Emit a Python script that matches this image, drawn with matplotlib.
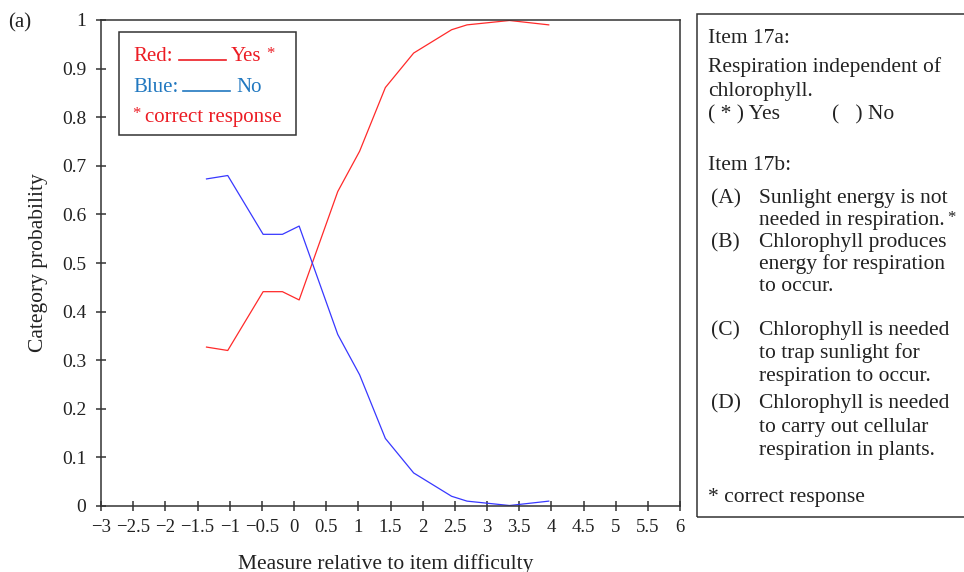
import matplotlib
matplotlib.use("Agg")
import matplotlib.pyplot as plt
from matplotlib.patches import Rectangle
from matplotlib.lines import Line2D

plt.rcParams['font.family'] = ['Liberation Serif', 'DejaVu Serif']

# Data
measure = [-1.36, -1.03, -0.48, -0.18, 0.08, 0.68, 1.02, 1.42, 1.86, 2.45, 2.69, 3.35, 3.96]
prob_yes = [0.327, 0.320, 0.441, 0.441, 0.424, 0.647, 0.730, 0.861, 0.932, 0.980, 0.990, 0.999, 0.990]
prob_no = [0.673, 0.680, 0.559, 0.559, 0.576, 0.353, 0.270, 0.139, 0.068, 0.020, 0.010, 0.001, 0.010]

x_ticks = [-3, -2.5, -2, -1.5, -1, -0.5, 0, 0.5, 1, 1.5, 2, 2.5, 3, 3.5, 4, 4.5, 5, 5.5, 6]
x_labels = ["\u22123", "\u22122.5", "\u22122", "\u22121.5", "\u22121", "\u22120.5", "0", "0.5", "1",
            "1.5", "2", "2.5", "3", "3.5", "4", "4.5", "5", "5.5", "6"]
y_ticks = [0, 0.1, 0.2, 0.3, 0.4, 0.5, 0.6, 0.7, 0.8, 0.9, 1]
y_labels = ["0", "0.1", "0.2", "0.3", "0.4", "0.5", "0.6", "0.7", "0.8", "0.9", "1"]

panel_lines = [
    ("Item 17a:", 708, 43),
    ("Respiration independent of", 708, 72),
    ("chlorophyll.", 708, 96),
    ("( * ) Yes", 708, 119),
    ("(   ) No", 832, 119),
    ("Item 17b:", 708, 170),
    ("(A)", 711, 203), ("Sunlight energy is not", 759, 203),
    ("needed in respiration.", 759, 225),
    ("(B)", 711, 247), ("Chlorophyll produces", 759, 247),
    ("energy for respiration", 759, 269),
    ("to occur.", 759, 291),
    ("(C)", 711, 335), ("Chlorophyll is needed", 759, 335),
    ("to trap sunlight for", 759, 358),
    ("respiration to occur.", 759, 381),
    ("(D)", 711, 408), ("Chlorophyll is needed", 759, 408),
    ("to carry out cellular", 759, 432),
    ("respiration in plants.", 759, 455),
    ("* correct response", 708, 502),
]

W, H = 964, 572
RED = '#ff2a2a'
BLUE = '#3838ff'
RED_TXT = '#ec1c24'
BLUE_TXT = '#2178c0'
INK = '#222222'


def fx(px):
    return px / W


def fy(py):
    return 1 - py / H


fig = plt.figure(figsize=(9.64, 5.72), dpi=100)
ax = fig.add_axes([fx(101), fy(506), fx(680) - fx(101), fy(20) - fy(506)])

ax.plot(measure, prob_yes, color=RED, lw=0.9)
ax.plot(measure, prob_no, color=BLUE, lw=0.9)

ax.set_xlim(-3, 6)
ax.set_ylim(0, 1)
ax.set_xticks(x_ticks)
ax.set_xticklabels(x_labels)
ax.set_yticks(y_ticks)
ax.set_yticklabels(y_labels)
ax.tick_params(direction='inout', length=7, width=1.1, color='#333333',
               labelsize=14, labelcolor=INK)
ax.tick_params(axis='x', pad=6, labelsize=13.5)
ax.tick_params(axis='y', pad=7)
for s in ax.spines.values():
    s.set_color('#333333')
    s.set_linewidth(1.1)

ax.set_ylabel("Category probability", fontsize=15.5, color=INK)
ax.yaxis.set_label_coords(-0.091, 0.5)
ax.set_xlabel("Measure relative to item difficulty", fontsize=15.5, color=INK)
ax.xaxis.set_label_coords(0.492, -0.098)

fig.text(fx(8), fy(27), "(a)", fontsize=15, color=INK, va='baseline')

# legend box inside the axes
fig.add_artist(Rectangle((fx(119), fy(135)), fx(296) - fx(119), fy(32) - fy(135),
                         transform=fig.transFigure, fill=False, ec='#333333', lw=1.1))
fig.text(fx(133), fy(61), "Red:", fontsize=15, color=RED_TXT, va='baseline')
fig.add_artist(Line2D([fx(179), fx(226)], [fy(60), fy(60)], color=RED_TXT, lw=1.2,
                      transform=fig.transFigure))
fig.text(fx(231), fy(61), "Yes", fontsize=15, color=RED_TXT, va='baseline')
fig.text(fx(266), fy(58), "*", fontsize=12, color=RED_TXT, va='baseline')
fig.text(fx(133), fy(92), "Blue:", fontsize=15, color=BLUE_TXT, va='baseline')
fig.add_artist(Line2D([fx(183), fx(230)], [fy(91), fy(91)], color=BLUE_TXT, lw=1.2,
                      transform=fig.transFigure))
fig.text(fx(236), fy(92), "No", fontsize=15, color=BLUE_TXT, va='baseline')
fig.text(fx(132), fy(118), "*", fontsize=12, color=RED_TXT, va='baseline')
fig.text(fx(145), fy(122), "correct response", fontsize=15, color=RED_TXT, va='baseline')

# item description panel
fig.add_artist(Rectangle((fx(697), fy(517)), fx(980) - fx(697), fy(14) - fy(517),
                         transform=fig.transFigure, fill=False, ec='#333333', lw=1.1,
                         clip_on=False))
for txt, px, py in panel_lines:
    tt = fig.text(fx(px), fy(py), txt, fontsize=15.5, color=INK, va='baseline')
    if txt == "needed in respiration.":
        ax.annotate("*", xy=(1, 1), xycoords=tt, xytext=(2, 1), textcoords='offset points',
                    fontsize=12, color=INK, va='top', annotation_clip=False)

fig.savefig("out.png", dpi=100)
